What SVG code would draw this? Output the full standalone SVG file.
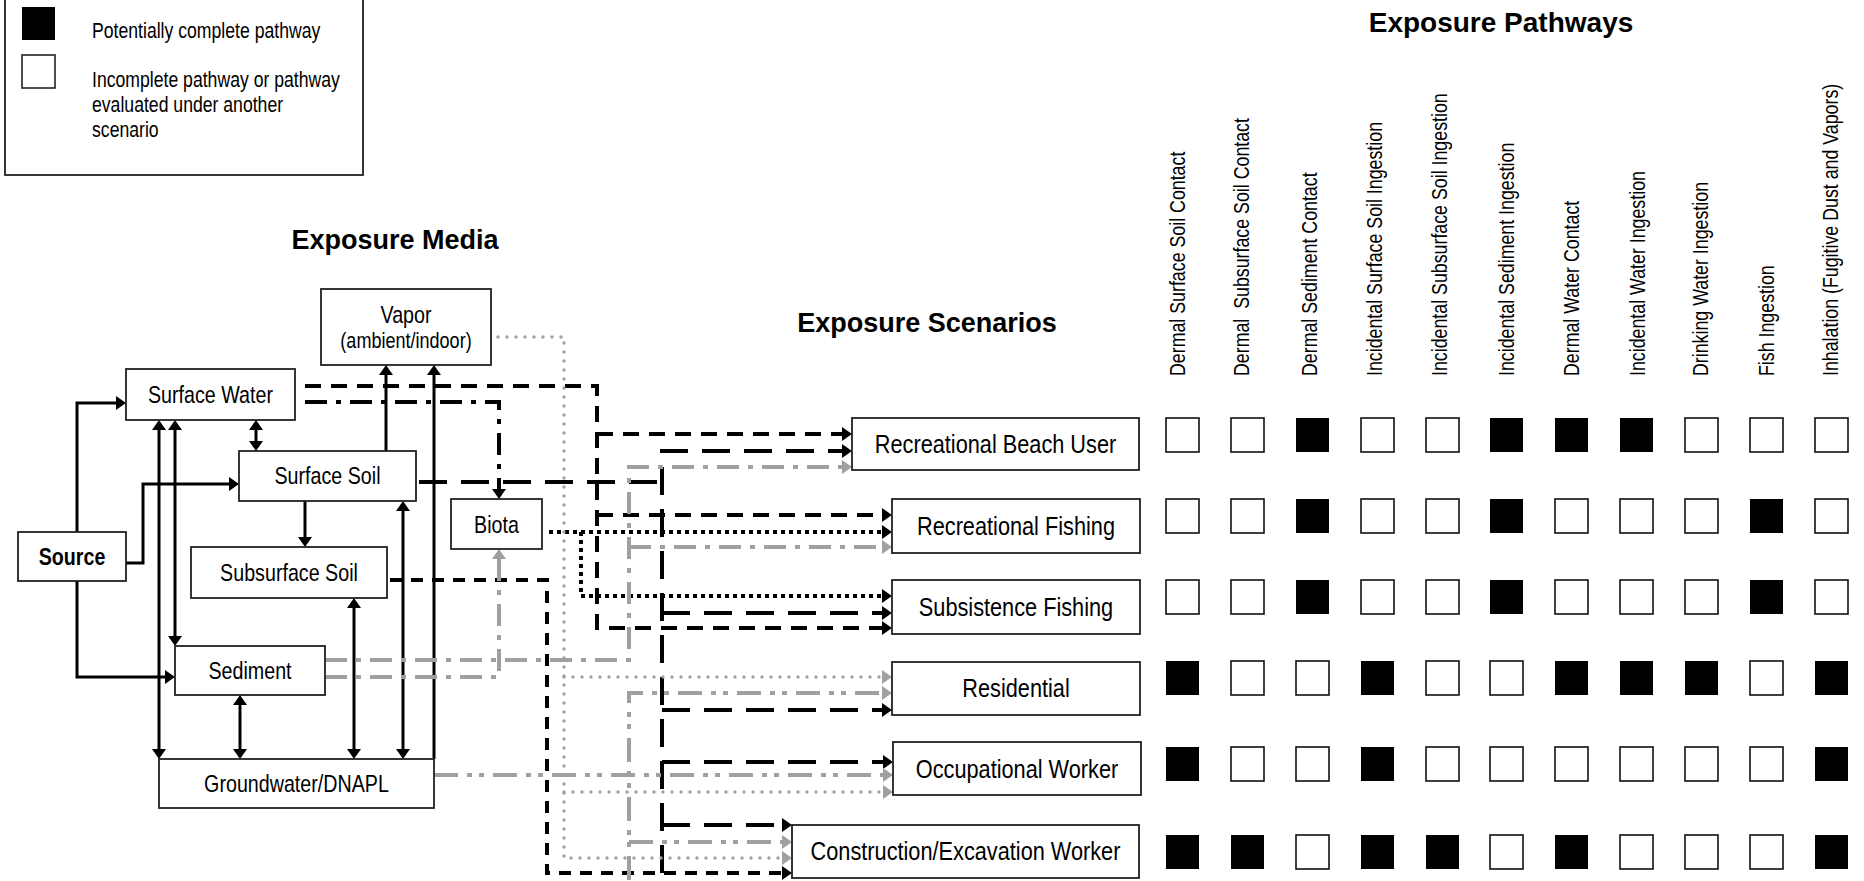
<svg xmlns="http://www.w3.org/2000/svg" width="1864" height="881" viewBox="0 0 1864 881">
  <style>
    .n { font-family: "Liberation Sans", Arial, sans-serif; fill: #000; }
    .t { font-family: "Liberation Sans", Arial, sans-serif; font-weight: bold; fill: #000; text-anchor: middle; }
    .box { fill: #fff; stroke: #222; stroke-width: 1.8; }
    .lbl { font-size: 24px; text-anchor: middle; }
    .scn { font-size: 26.5px; text-anchor: middle; }
    .col { font-size: 21.7px; }
    .leg { font-size: 21.5px; }
    .on { fill: #000; }
    .off { fill: #fff; stroke: #111; stroke-width: 1.6; }
    .solid { fill: none; stroke: #000; stroke-width: 3; }
    .dash { fill: none; stroke: #000; stroke-width: 4; stroke-dasharray: 16 10; }
    .sdash { fill: none; stroke: #000; stroke-width: 4; stroke-dasharray: 12 9; }
    .ldash { fill: none; stroke: #000; stroke-width: 4; stroke-dasharray: 28 14; }
    .dashdot { fill: none; stroke: #000; stroke-width: 4; stroke-dasharray: 22 9 5 9; }
    .dot { fill: none; stroke: #000; stroke-width: 4; stroke-dasharray: 4 4; }
    .gdashdot { fill: none; stroke: #a0a0a0; stroke-width: 4; stroke-dasharray: 22 9 5 9; }
    .gdd { fill: none; stroke: #a0a0a0; stroke-width: 4; stroke-dasharray: 24 9 5 7 5 9; }
    .gdot { fill: none; stroke: #a0a0a0; stroke-width: 3.4; stroke-dasharray: 0 9; stroke-linecap: round; }
  </style>
  <defs>
    <marker id="ab" markerUnits="userSpaceOnUse" markerWidth="10" markerHeight="14" refX="0" refY="7" orient="auto-start-reverse" overflow="visible">
      <path d="M0,0 L10,7 L0,14 Z" fill="#000"/>
    </marker>
    <marker id="ag" markerUnits="userSpaceOnUse" markerWidth="10" markerHeight="14" refX="0" refY="7" orient="auto-start-reverse" overflow="visible">
      <path d="M0,0 L10,7 L0,14 Z" fill="#a0a0a0"/>
    </marker>
  </defs>

  <rect width="1864" height="881" fill="#fff"/>

  <!-- legend (narrow lettering: horizontal scale 0.82) -->
  <g id="legend">
    <rect x="5" y="-5" width="358" height="180" fill="#fff" stroke="#222" stroke-width="1.8"/>
    <rect x="22" y="7" width="33" height="33" fill="#000"/>
    <rect x="22" y="55" width="33" height="33" fill="#fff" stroke="#222" stroke-width="1.6"/>
    <text class="n leg" transform="translate(92,38) scale(0.82,1)">Potentially complete pathway</text>
    <text class="n leg" transform="translate(92,87) scale(0.82,1)">Incomplete pathway or pathway</text>
    <text class="n leg" transform="translate(92,112) scale(0.82,1)">evaluated under another</text>
    <text class="n leg" transform="translate(92,137) scale(0.82,1)">scenario</text>
  </g>

  <!-- section titles -->
  <g id="titles">
    <text class="t" x="395" y="249" font-size="27">Exposure Media</text>
    <text class="t" x="927" y="332" font-size="27">Exposure Scenarios</text>
    <text class="t" x="1501" y="32" font-size="28">Exposure Pathways</text>
  </g>

  <!-- connectors -->
  <g id="connectors">
    <!-- source and media transfers -->
    <path class="solid" d="M77,532 V403 H116" marker-end="url(#ab)"/>
    <path class="solid" d="M126,563 H143 V484 H229" marker-end="url(#ab)"/>
    <path class="solid" d="M77,581 V677 H165" marker-end="url(#ab)"/>
    <path class="solid" d="M256,430 V441" marker-start="url(#ab)" marker-end="url(#ab)"/>
    <path class="solid" d="M159,430 V749" marker-start="url(#ab)" marker-end="url(#ab)"/>
    <path class="solid" d="M175,430 V636" marker-start="url(#ab)" marker-end="url(#ab)"/>
    <path class="solid" d="M305,501 V537" marker-end="url(#ab)"/>
    <path class="solid" d="M354,608 V749" marker-start="url(#ab)" marker-end="url(#ab)"/>
    <path class="solid" d="M240,705 V749" marker-start="url(#ab)" marker-end="url(#ab)"/>
    <path class="solid" d="M403,511 V749" marker-start="url(#ab)" marker-end="url(#ab)"/>
    <path class="solid" d="M386,451 V375" marker-end="url(#ab)"/>
    <path class="solid" d="M434,759 V375" marker-end="url(#ab)"/>

    <!-- surface water -->
    <path class="dash" d="M305,386 H597 V628 H882" marker-end="url(#ab)"/>
    <path class="dash" d="M597,434 H842" marker-end="url(#ab)"/>
    <path class="dash" d="M597,515 H882" marker-end="url(#ab)"/>
    <path class="dashdot" d="M305,402 H499 V489" marker-end="url(#ab)"/>

    <!-- surface soil -->
    <path class="ldash" d="M419,482 H662"/>
    <path class="ldash" d="M662,873 V451 H842" marker-end="url(#ab)"/>
    <path class="ldash" d="M662,613 H882" marker-end="url(#ab)"/>
    <path class="ldash" d="M662,710 H882" marker-end="url(#ab)"/>
    <path class="ldash" d="M662,762 H883" marker-end="url(#ab)"/>
    <path class="ldash" d="M662,825 H782" marker-end="url(#ab)"/>

    <!-- subsurface soil -->
    <path class="sdash" d="M390,580 H547 V873 H782" marker-end="url(#ab)"/>

    <!-- biota -->
    <path class="dot" d="M549,532 H882" marker-end="url(#ab)"/>
    <path class="dot" d="M581,532 V596 H882" marker-end="url(#ab)"/>

    <!-- vapor -->
    <path class="gdot" d="M498,337 H564 V858 H782" marker-end="url(#ag)"/>
    <path class="gdot" d="M564,677 H882" marker-end="url(#ag)"/>
    <path class="gdot" d="M564,792 H883" marker-end="url(#ag)"/>

    <!-- sediment -->
    <path class="gdashdot" d="M325,660 H629 V467 H842" marker-end="url(#ag)"/>
    <path class="gdashdot" d="M629,547 H882" marker-end="url(#ag)"/>
    <path class="gdashdot" d="M325,677 H499 V559" marker-end="url(#ag)"/>

    <!-- groundwater -->
    <path class="gdd" d="M434,775 H883" marker-end="url(#ag)"/>
    <path class="gdd" d="M629,880 V693 H882" marker-end="url(#ag)"/>
    <path class="gdd" d="M629,842 H782" marker-end="url(#ag)"/>
  </g>

  <!-- exposure media -->
  <g id="vapor">
    <rect class="box" x="321" y="289" width="170" height="76"/>
    <text class="n lbl" transform="translate(406,323) scale(0.82,1)">Vapor</text>
    <text class="n" transform="translate(406,348) scale(0.82,1)" font-size="22" text-anchor="middle">(ambient/indoor)</text>
  </g>
  <g id="surface-water">
    <rect class="box" x="126" y="369" width="169" height="51"/>
    <text class="n lbl" transform="translate(210.5,403) scale(0.82,1)">Surface Water</text>
  </g>
  <g id="surface-soil">
    <rect class="box" x="239" y="451" width="177" height="50"/>
    <text class="n lbl" transform="translate(327.5,484) scale(0.82,1)">Surface Soil</text>
  </g>
  <g id="biota">
    <rect class="box" x="451" y="499" width="91" height="50"/>
    <text class="n lbl" transform="translate(496.5,533) scale(0.82,1)">Biota</text>
  </g>
  <g id="source">
    <rect class="box" x="18" y="532" width="108" height="49"/>
    <text class="n lbl" transform="translate(72,565) scale(0.82,1)" font-weight="bold">Source</text>
  </g>
  <g id="subsurface-soil">
    <rect class="box" x="191" y="547" width="196" height="51"/>
    <text class="n lbl" transform="translate(289,581) scale(0.82,1)">Subsurface Soil</text>
  </g>
  <g id="sediment">
    <rect class="box" x="175" y="646" width="150" height="49"/>
    <text class="n lbl" transform="translate(250,679) scale(0.82,1)">Sediment</text>
  </g>
  <g id="groundwater">
    <rect class="box" x="159" y="759" width="275" height="49"/>
    <text class="n lbl" transform="translate(296.5,792) scale(0.82,1)">Groundwater/DNAPL</text>
  </g>

  <!-- exposure scenarios -->
  <g id="beach-user">
    <rect class="box" x="852" y="418" width="287" height="52"/>
    <text class="n scn" transform="translate(995.5,453) scale(0.82,1)">Recreational Beach User</text>
  </g>
  <g id="recreational-fishing">
    <rect class="box" x="892" y="499" width="248" height="54"/>
    <text class="n scn" transform="translate(1016,535) scale(0.82,1)">Recreational Fishing</text>
  </g>
  <g id="subsistence-fishing">
    <rect class="box" x="892" y="580" width="248" height="54"/>
    <text class="n scn" transform="translate(1016,616) scale(0.82,1)">Subsistence Fishing</text>
  </g>
  <g id="residential">
    <rect class="box" x="892" y="662" width="248" height="53"/>
    <text class="n scn" transform="translate(1016,697) scale(0.82,1)">Residential</text>
  </g>
  <g id="occupational">
    <rect class="box" x="893" y="742" width="248" height="53"/>
    <text class="n scn" transform="translate(1017,778) scale(0.82,1)">Occupational Worker</text>
  </g>
  <g id="construction">
    <rect class="box" x="792" y="825" width="347" height="53"/>
    <text class="n scn" transform="translate(965.5,860) scale(0.82,1)">Construction/Excavation Worker</text>
  </g>

  <!-- exposure pathway headings -->
  <g id="pathway-headings">
    <text class="n col" transform="translate(1185,376) rotate(-90) scale(0.82,1)">Dermal Surface Soil Contact</text>
    <text class="n col" transform="translate(1249,376) rotate(-90) scale(0.82,1)" style="white-space:pre">Dermal  Subsurface Soil Contact</text>
    <text class="n col" transform="translate(1317,376) rotate(-90) scale(0.82,1)">Dermal Sediment Contact</text>
    <text class="n col" transform="translate(1382,376) rotate(-90) scale(0.82,1)">Incidental Surface Soil Ingestion</text>
    <text class="n col" transform="translate(1447,376) rotate(-90) scale(0.82,1)">Incidental Subsurface Soil Ingestion</text>
    <text class="n col" transform="translate(1514,376) rotate(-90) scale(0.82,1)">Incidental Sediment Ingestion</text>
    <text class="n col" transform="translate(1579,376) rotate(-90) scale(0.82,1)">Dermal Water Contact</text>
    <text class="n col" transform="translate(1645,376) rotate(-90) scale(0.82,1)">Incidental Water Ingestion</text>
    <text class="n col" transform="translate(1708,376) rotate(-90) scale(0.82,1)">Drinking Water Ingestion</text>
    <text class="n col" transform="translate(1774,376) rotate(-90) scale(0.82,1)">Fish Ingestion</text>
    <text class="n col" transform="translate(1838,376) rotate(-90) scale(0.82,1)">Inhalation (Fugitive Dust and Vapors)</text>
  </g>

  <!-- pathway matrix: filled = potentially complete -->
  <g id="matrix">
    <!-- Recreational Beach User -->
    <rect class="off" x="1166" y="418" width="33" height="34"/>
    <rect class="off" x="1231" y="418" width="33" height="34"/>
    <rect class="on" x="1296" y="418" width="33" height="34"/>
    <rect class="off" x="1361" y="418" width="33" height="34"/>
    <rect class="off" x="1426" y="418" width="33" height="34"/>
    <rect class="on" x="1490" y="418" width="33" height="34"/>
    <rect class="on" x="1555" y="418" width="33" height="34"/>
    <rect class="on" x="1620" y="418" width="33" height="34"/>
    <rect class="off" x="1685" y="418" width="33" height="34"/>
    <rect class="off" x="1750" y="418" width="33" height="34"/>
    <rect class="off" x="1815" y="418" width="33" height="34"/>
    <!-- Recreational Fishing -->
    <rect class="off" x="1166" y="499" width="33" height="34"/>
    <rect class="off" x="1231" y="499" width="33" height="34"/>
    <rect class="on" x="1296" y="499" width="33" height="34"/>
    <rect class="off" x="1361" y="499" width="33" height="34"/>
    <rect class="off" x="1426" y="499" width="33" height="34"/>
    <rect class="on" x="1490" y="499" width="33" height="34"/>
    <rect class="off" x="1555" y="499" width="33" height="34"/>
    <rect class="off" x="1620" y="499" width="33" height="34"/>
    <rect class="off" x="1685" y="499" width="33" height="34"/>
    <rect class="on" x="1750" y="499" width="33" height="34"/>
    <rect class="off" x="1815" y="499" width="33" height="34"/>
    <!-- Subsistence Fishing -->
    <rect class="off" x="1166" y="580" width="33" height="34"/>
    <rect class="off" x="1231" y="580" width="33" height="34"/>
    <rect class="on" x="1296" y="580" width="33" height="34"/>
    <rect class="off" x="1361" y="580" width="33" height="34"/>
    <rect class="off" x="1426" y="580" width="33" height="34"/>
    <rect class="on" x="1490" y="580" width="33" height="34"/>
    <rect class="off" x="1555" y="580" width="33" height="34"/>
    <rect class="off" x="1620" y="580" width="33" height="34"/>
    <rect class="off" x="1685" y="580" width="33" height="34"/>
    <rect class="on" x="1750" y="580" width="33" height="34"/>
    <rect class="off" x="1815" y="580" width="33" height="34"/>
    <!-- Residential -->
    <rect class="on" x="1166" y="661" width="33" height="34"/>
    <rect class="off" x="1231" y="661" width="33" height="34"/>
    <rect class="off" x="1296" y="661" width="33" height="34"/>
    <rect class="on" x="1361" y="661" width="33" height="34"/>
    <rect class="off" x="1426" y="661" width="33" height="34"/>
    <rect class="off" x="1490" y="661" width="33" height="34"/>
    <rect class="on" x="1555" y="661" width="33" height="34"/>
    <rect class="on" x="1620" y="661" width="33" height="34"/>
    <rect class="on" x="1685" y="661" width="33" height="34"/>
    <rect class="off" x="1750" y="661" width="33" height="34"/>
    <rect class="on" x="1815" y="661" width="33" height="34"/>
    <!-- Occupational Worker -->
    <rect class="on" x="1166" y="747" width="33" height="34"/>
    <rect class="off" x="1231" y="747" width="33" height="34"/>
    <rect class="off" x="1296" y="747" width="33" height="34"/>
    <rect class="on" x="1361" y="747" width="33" height="34"/>
    <rect class="off" x="1426" y="747" width="33" height="34"/>
    <rect class="off" x="1490" y="747" width="33" height="34"/>
    <rect class="off" x="1555" y="747" width="33" height="34"/>
    <rect class="off" x="1620" y="747" width="33" height="34"/>
    <rect class="off" x="1685" y="747" width="33" height="34"/>
    <rect class="off" x="1750" y="747" width="33" height="34"/>
    <rect class="on" x="1815" y="747" width="33" height="34"/>
    <!-- Construction/Excavation Worker -->
    <rect class="on" x="1166" y="835" width="33" height="34"/>
    <rect class="on" x="1231" y="835" width="33" height="34"/>
    <rect class="off" x="1296" y="835" width="33" height="34"/>
    <rect class="on" x="1361" y="835" width="33" height="34"/>
    <rect class="on" x="1426" y="835" width="33" height="34"/>
    <rect class="off" x="1490" y="835" width="33" height="34"/>
    <rect class="on" x="1555" y="835" width="33" height="34"/>
    <rect class="off" x="1620" y="835" width="33" height="34"/>
    <rect class="off" x="1685" y="835" width="33" height="34"/>
    <rect class="off" x="1750" y="835" width="33" height="34"/>
    <rect class="on" x="1815" y="835" width="33" height="34"/>
  </g>
</svg>
